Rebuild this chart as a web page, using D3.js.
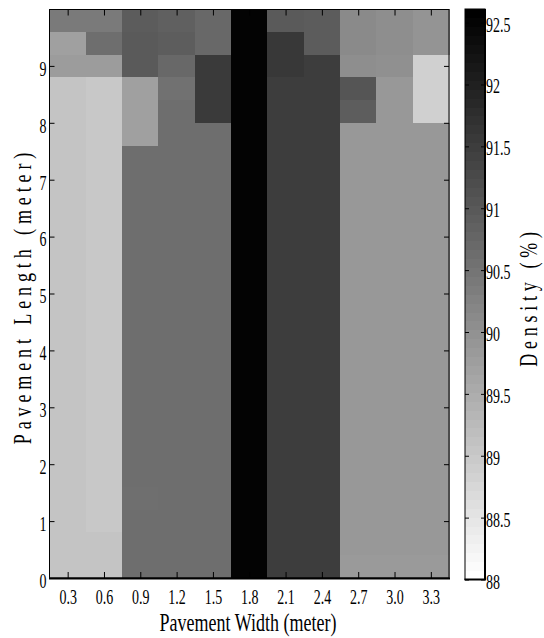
<!DOCTYPE html>
<html>
<head>
<meta charset="utf-8">
<script src="https://cdn.jsdelivr.net/npm/d3@7"></script>
<style>
  body { margin: 0; background: #fff; }
  text { font-family: "Liberation Serif", "Times New Roman", serif; fill: #000; }
</style>
</head>
<body>
<svg></svg>
<script>
// pavement width (column centres, meter)
const widths = [0.3, 0.6, 0.9, 1.2, 1.5, 1.8, 2.1, 2.4, 2.7, 3.0, 3.3]
// pavement length (row centres, meter), top to bottom
const lengths = [9.8, 9.4, 9.0, 8.6, 8.2, 7.8, 7.4, 7.0, 6.6, 6.2, 5.8, 5.4, 5.0,
                 4.6, 4.2, 3.8, 3.4, 3.0, 2.6, 2.2, 1.8, 1.4, 1.0, 0.6, 0.2]
// density (%) per row, one value per width
const density = [
  [90.41, 90.41, 90.95, 90.88, 90.73, 92.55, 90.99, 90.95, 90.12, 90.05, 89.93],
  [89.72, 90.63, 90.99, 90.92, 90.73, 92.55, 91.60, 90.95, 90.12, 90.05, 89.93],
  [89.79, 89.79, 90.99, 90.73, 91.57, 92.55, 91.60, 91.50, 90.05, 90.01, 88.85],
  [89.07, 89.00, 89.72, 90.56, 91.57, 92.55, 91.50, 91.50, 91.08, 89.87, 88.85],
  [89.07, 89.00, 89.72, 90.63, 91.57, 92.55, 91.50, 91.50, 90.92, 89.87, 88.85],
  [89.07, 89.00, 89.72, 90.63, 90.63, 92.55, 91.50, 91.50, 89.87, 89.87, 89.87],
  [89.07, 89.00, 90.63, 90.63, 90.63, 92.55, 91.50, 91.50, 89.87, 89.87, 89.87],
  [89.07, 89.00, 90.63, 90.63, 90.63, 92.55, 91.50, 91.50, 89.87, 89.87, 89.87],
  [89.07, 89.00, 90.63, 90.63, 90.63, 92.55, 91.50, 91.50, 89.87, 89.87, 89.87],
  [89.07, 89.00, 90.63, 90.63, 90.63, 92.55, 91.50, 91.50, 89.87, 89.87, 89.87],
  [89.07, 89.00, 90.63, 90.63, 90.63, 92.55, 91.50, 91.50, 89.87, 89.87, 89.87],
  [89.07, 89.00, 90.63, 90.63, 90.63, 92.55, 91.50, 91.50, 89.87, 89.87, 89.87],
  [89.07, 89.00, 90.63, 90.63, 90.63, 92.55, 91.50, 91.50, 89.87, 89.87, 89.87],
  [89.07, 89.00, 90.63, 90.63, 90.63, 92.55, 91.50, 91.50, 89.87, 89.87, 89.87],
  [89.07, 89.00, 90.63, 90.63, 90.63, 92.55, 91.50, 91.50, 89.87, 89.87, 89.87],
  [89.07, 89.00, 90.63, 90.63, 90.63, 92.55, 91.50, 91.50, 89.87, 89.87, 89.87],
  [89.07, 89.00, 90.63, 90.63, 90.63, 92.55, 91.50, 91.50, 89.87, 89.87, 89.87],
  [89.07, 89.00, 90.63, 90.63, 90.63, 92.55, 91.50, 91.50, 89.87, 89.87, 89.87],
  [89.07, 89.00, 90.63, 90.63, 90.63, 92.55, 91.50, 91.50, 89.87, 89.87, 89.87],
  [89.07, 89.00, 90.63, 90.63, 90.63, 92.55, 91.50, 91.50, 89.87, 89.87, 89.87],
  [89.07, 89.00, 90.63, 90.63, 90.63, 92.55, 91.50, 91.50, 89.87, 89.87, 89.87],
  [89.07, 89.00, 90.60, 90.63, 90.63, 92.55, 91.50, 91.50, 89.87, 89.87, 89.87],
  [89.07, 89.00, 90.63, 90.63, 90.63, 92.55, 91.50, 91.50, 89.87, 89.87, 89.87],
  [89.07, 89.07, 90.63, 90.63, 90.63, 92.55, 91.50, 91.50, 89.87, 89.87, 89.87],
  [89.07, 89.07, 90.63, 90.63, 90.63, 92.55, 91.50, 91.50, 89.83, 89.83, 89.83]
]
const yTicks = [0, 1, 2, 3, 4, 5, 6, 7, 8, 9]
const colorTicks = [88, 88.5, 89, 89.5, 90, 90.5, 91, 91.5, 92, 92.5]
const colorRange = [88, 92.61]

const svg = d3.select("svg")
    .attr("width", 544)
    .attr("height", 638)

const halfW = (widths[1] - widths[0]) / 2
const halfL = (lengths[0] - lengths[1]) / 2

const x = d3.scaleLinear()
    .domain([widths[0] - halfW, widths[widths.length - 1] + halfW])
    .range([49.5, 449])

const y = d3.scaleLinear()
    .domain([0, 10])
    .range([578, 9])

// white (88) to black (max) like matlab's flipped gray map
const color = d3.scaleLinear()
    .domain(colorRange)
    .range(["#ffffff", "#000000"])

// flatten the grid into cells
const cells = []
density.forEach((row, i) => {
    row.forEach((v, j) => {
        cells.push({ w: widths[j], l: lengths[i], v: v })
    })
})

svg.append("g")
    .selectAll("rect")
    .data(cells)
    .enter()
    .append("rect")
    .attr("x", d => x(d.w - halfW))
    .attr("y", d => y(d.l + halfL))
    .attr("width", d => x(d.w + halfW) - x(d.w - halfW) + 0.5)
    .attr("height", d => y(d.l - halfL) - y(d.l + halfL) + 0.5)
    .attr("fill", d => color(d.v))
    .attr("shape-rendering", "crispEdges")

// axes, ticks pointing inwards
const tickStyle = g => {
    g.select(".domain").remove()
    g.selectAll("line").attr("stroke", "#000").attr("stroke-width", 1)
}

const bottom = svg.append("g")
    .attr("transform", "translate(0, 578)")
    .call(d3.axisBottom(x).tickValues(widths).tickSize(-6).tickFormat(d3.format(".1f")))
    .call(tickStyle)
bottom.selectAll("text")
    .attr("y", 0).attr("dy", null)
    .attr("transform", "translate(0, 26) scale(1, 1.5)")
    .style("font-size", "14px")

svg.append("g")
    .attr("transform", "translate(0, 9.5)")
    .call(d3.axisTop(x).tickValues(widths).tickSize(-6).tickFormat(""))
    .call(tickStyle)

const left = svg.append("g")
    .attr("transform", "translate(49.5, 0)")
    .call(d3.axisLeft(y).tickValues(yTicks).tickSize(-5))
    .call(tickStyle)
left.selectAll("text")
    .attr("x", 0).attr("dy", null).attr("y", 0)
    .attr("transform", "translate(-3, 9.3) scale(1, 1.5)")
    .style("font-size", "14px")

svg.append("g")
    .attr("transform", "translate(449, 0)")
    .call(d3.axisRight(y).tickValues(yTicks).tickSize(-5).tickFormat(""))
    .call(tickStyle)

// plot frame
svg.append("rect")
    .attr("x", 49.5).attr("y", 9.5)
    .attr("width", 399.5).attr("height", 568.5)
    .attr("fill", "none")
    .attr("stroke", "#000")
svg.append("line")
    .attr("x1", 49).attr("x2", 450)
    .attr("y1", 578.5).attr("y2", 578.5)
    .attr("stroke", "#000").attr("stroke-width", 2)

// colorbar
const cb = d3.scaleLinear().domain(colorRange).range([579.5, 9])
const nBands = 64
const bands = d3.range(nBands).map(i => {
    const lo = colorRange[0] + (colorRange[1] - colorRange[0]) * i / nBands
    const hi = colorRange[0] + (colorRange[1] - colorRange[0]) * (i + 1) / nBands
    return { lo: lo, hi: hi, c: colorRange[0] + (colorRange[1] - colorRange[0]) * i / (nBands - 1) }
})
svg.append("g")
    .selectAll("rect")
    .data(bands)
    .enter()
    .append("rect")
    .attr("x", 465)
    .attr("y", d => cb(d.hi))
    .attr("width", 20)
    .attr("height", d => cb(d.lo) - cb(d.hi) + 0.5)
    .attr("fill", d => color(d.c))
    .attr("shape-rendering", "crispEdges")

svg.append("g")
    .attr("transform", "translate(465, 0)")
    .call(d3.axisLeft(cb).tickValues(colorTicks).tickSize(-4).tickFormat(""))
    .call(tickStyle)

const cbRight = svg.append("g")
    .attr("transform", "translate(485, 0)")
    .call(d3.axisRight(cb).tickValues(colorTicks).tickSize(-4).tickFormat(d3.format("")))
    .call(tickStyle)
cbRight.selectAll("text")
    .attr("x", 0).attr("dy", null).attr("y", 0)
    .attr("transform", "translate(1, 8.5) scale(1, 1.5)")
    .style("font-size", "14px")

svg.append("rect")
    .attr("x", 465).attr("y", 9)
    .attr("width", 20).attr("height", 570.5)
    .attr("fill", "none")
    .attr("stroke", "#000")
    .attr("stroke-width", 1)
svg.append("line")
    .attr("x1", 485).attr("x2", 485).attr("y1", 9).attr("y2", 580)
    .attr("stroke", "#000").attr("stroke-width", 2)
svg.append("line")
    .attr("x1", 464.5).attr("x2", 486).attr("y1", 579.5).attr("y2", 579.5)
    .attr("stroke", "#000").attr("stroke-width", 2)

// axis titles
svg.append("text")
    .attr("transform", "translate(248, 630.5) scale(1, 1.35)")
    .attr("text-anchor", "middle")
    .style("font-size", "18px")
    .text("Pavement Width (meter)")

svg.append("text")
    .attr("transform", "translate(31, 296) rotate(-90) scale(1, 1.4)")
    .attr("text-anchor", "middle")
    .style("font-size", "18px")
    .style("letter-spacing", "4.9px")
    .text("Pavement Length (meter)")

svg.append("text")
    .attr("transform", "translate(537, 297) rotate(-90) scale(1, 1.4)")
    .attr("text-anchor", "middle")
    .style("font-size", "18px")
    .style("letter-spacing", "4.75px")
    .text("Density (%)")
</script>
</body>
</html>
